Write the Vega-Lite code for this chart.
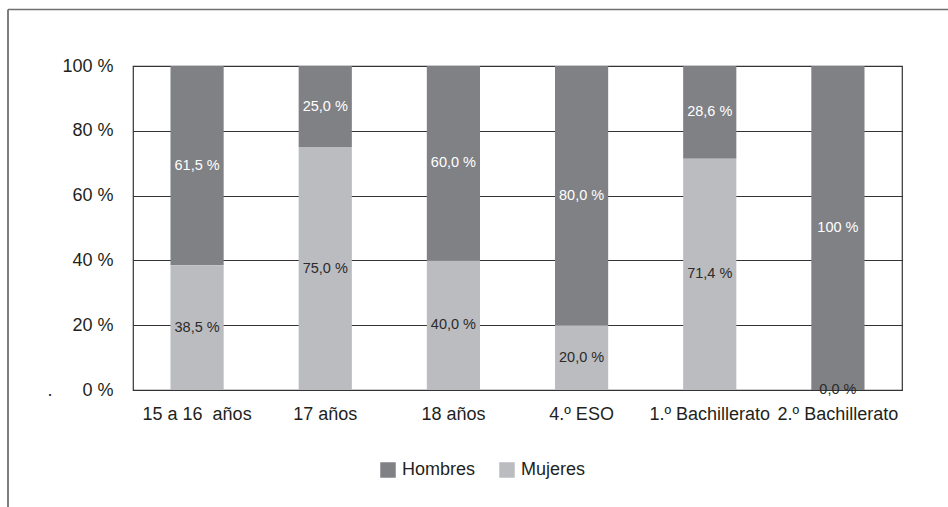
{
  "$schema": "https://vega.github.io/schema/vega-lite/v6.json",
  "width": 769,
  "height": 324,
  "autosize": {"type": "none"},
  "padding": {"left": 133, "top": 66, "right": 46, "bottom": 117},
  "background": "white",
  "config": {
    "font": "Liberation Sans",
    "locale": {
      "number": {
        "decimal": ",",
        "thousands": ".",
        "grouping": [3],
        "currency": ["", " €"],
        "percent": " %"
      }
    },
    "view": {"stroke": "#333333", "strokeWidth": 1.2}
  },
  "layer": [
    {
      "description": "Page frame: top and left border lines around the figure",
      "data": {"values": [{}]},
      "layer": [
        {
          "mark": {"type": "rule", "stroke": "#707070", "strokeWidth": 1.6},
          "encoding": {
            "x": {"datum": 0, "type": "quantitative", "scale": {"domain": [0, 1], "range": [-125, 815]}, "axis": null},
            "x2": {"datum": 1},
            "y": {"datum": 0, "type": "quantitative", "scale": {"domain": [0, 1], "range": [-56.5, 441]}, "axis": null}
          }
        },
        {
          "mark": {"type": "rule", "stroke": "#707070", "strokeWidth": 1.8},
          "encoding": {
            "x": {"datum": 0, "type": "quantitative"},
            "y": {"datum": 0, "type": "quantitative"},
            "y2": {"datum": 1}
          }
        }
      ]
    },
    {
      "data": {
        "values": [
          {"curso": "15 a 16\u00a0 años", "sexo": "Hombres", "valor": 0.615},
          {"curso": "15 a 16\u00a0 años", "sexo": "Mujeres", "valor": 0.385},
          {"curso": "17 años", "sexo": "Hombres", "valor": 0.25},
          {"curso": "17 años", "sexo": "Mujeres", "valor": 0.75},
          {"curso": "18 años", "sexo": "Hombres", "valor": 0.6},
          {"curso": "18 años", "sexo": "Mujeres", "valor": 0.4},
          {"curso": "4.º ESO", "sexo": "Hombres", "valor": 0.8},
          {"curso": "4.º ESO", "sexo": "Mujeres", "valor": 0.2},
          {"curso": "1.º Bachillerato", "sexo": "Hombres", "valor": 0.286},
          {"curso": "1.º Bachillerato", "sexo": "Mujeres", "valor": 0.714},
          {"curso": "2.º Bachillerato", "sexo": "Hombres", "valor": 1.0},
          {"curso": "2.º Bachillerato", "sexo": "Mujeres", "valor": 0.0}
        ]
      },
      "encoding": {
        "x": {
          "field": "curso",
          "type": "nominal",
          "sort": null,
          "scale": {"paddingInner": 0.585, "paddingOuter": 0.2925},
          "axis": {
            "orient": "bottom",
            "title": null,
            "labelAngle": 0,
            "ticks": false,
            "domainColor": "#333333",
            "domainWidth": 1.2,
            "labelFontSize": 18,
            "labelColor": "#231f20",
            "labelPadding": 15,
            "labelLimit": 0
          }
        },
        "y": {
          "field": "valor",
          "type": "quantitative",
          "stack": "zero",
          "scale": {"domain": [0, 1], "nice": false},
          "axis": {
            "orient": "left",
            "title": null,
            "values": [0, 0.2, 0.4, 0.6, 0.8, 1],
            "format": ".0%",
            "labelExpr": "datum.value == 0 ? '.\u00a0\u00a0\u00a0\u00a0\u00a0\u00a0' + datum.label : datum.label",
            "ticks": false,
            "domain": false,
            "grid": true,
            "gridColor": "#333333",
            "gridWidth": 1,
            "labelFontSize": 18,
            "labelColor": "#231f20",
            "labelPadding": 20
          }
        },
        "order": {"field": "sexo", "sort": "descending"}
      },
      "layer": [
        {
          "mark": {"type": "bar"},
          "encoding": {
            "color": {
              "field": "sexo",
              "type": "nominal",
              "scale": {"domain": ["Hombres", "Mujeres"], "range": ["#808185", "#bbbcc0"]},
              "legend": {
                "title": null,
                "orient": "none",
                "direction": "horizontal",
                "legendX": 246,
                "legendY": 395,
                "symbolType": "square",
                "symbolSize": 240,
                "symbolStrokeWidth": 0,
                "labelFontSize": 18,
                "labelColor": "#231f20",
                "labelOffset": 5,
                "columnPadding": 22
              }
            }
          }
        },
        {
          "mark": {"type": "text", "fontSize": 14.5, "baseline": "middle"},
          "encoding": {
            "y": {"field": "valor", "type": "quantitative", "stack": "zero", "bandPosition": 0.5},
            "text": {
              "condition": {"test": "datum.valor == 1", "field": "valor", "format": ".0%"},
              "field": "valor",
              "type": "quantitative",
              "format": ".1%"
            },
            "color": {
              "condition": {"test": "datum.sexo === 'Hombres'", "value": "#ffffff"},
              "value": "#2b2b2b"
            }
          }
        }
      ]
    }
  ],
  "resolve": {"scale": {"x": "independent", "y": "independent"}}
}
